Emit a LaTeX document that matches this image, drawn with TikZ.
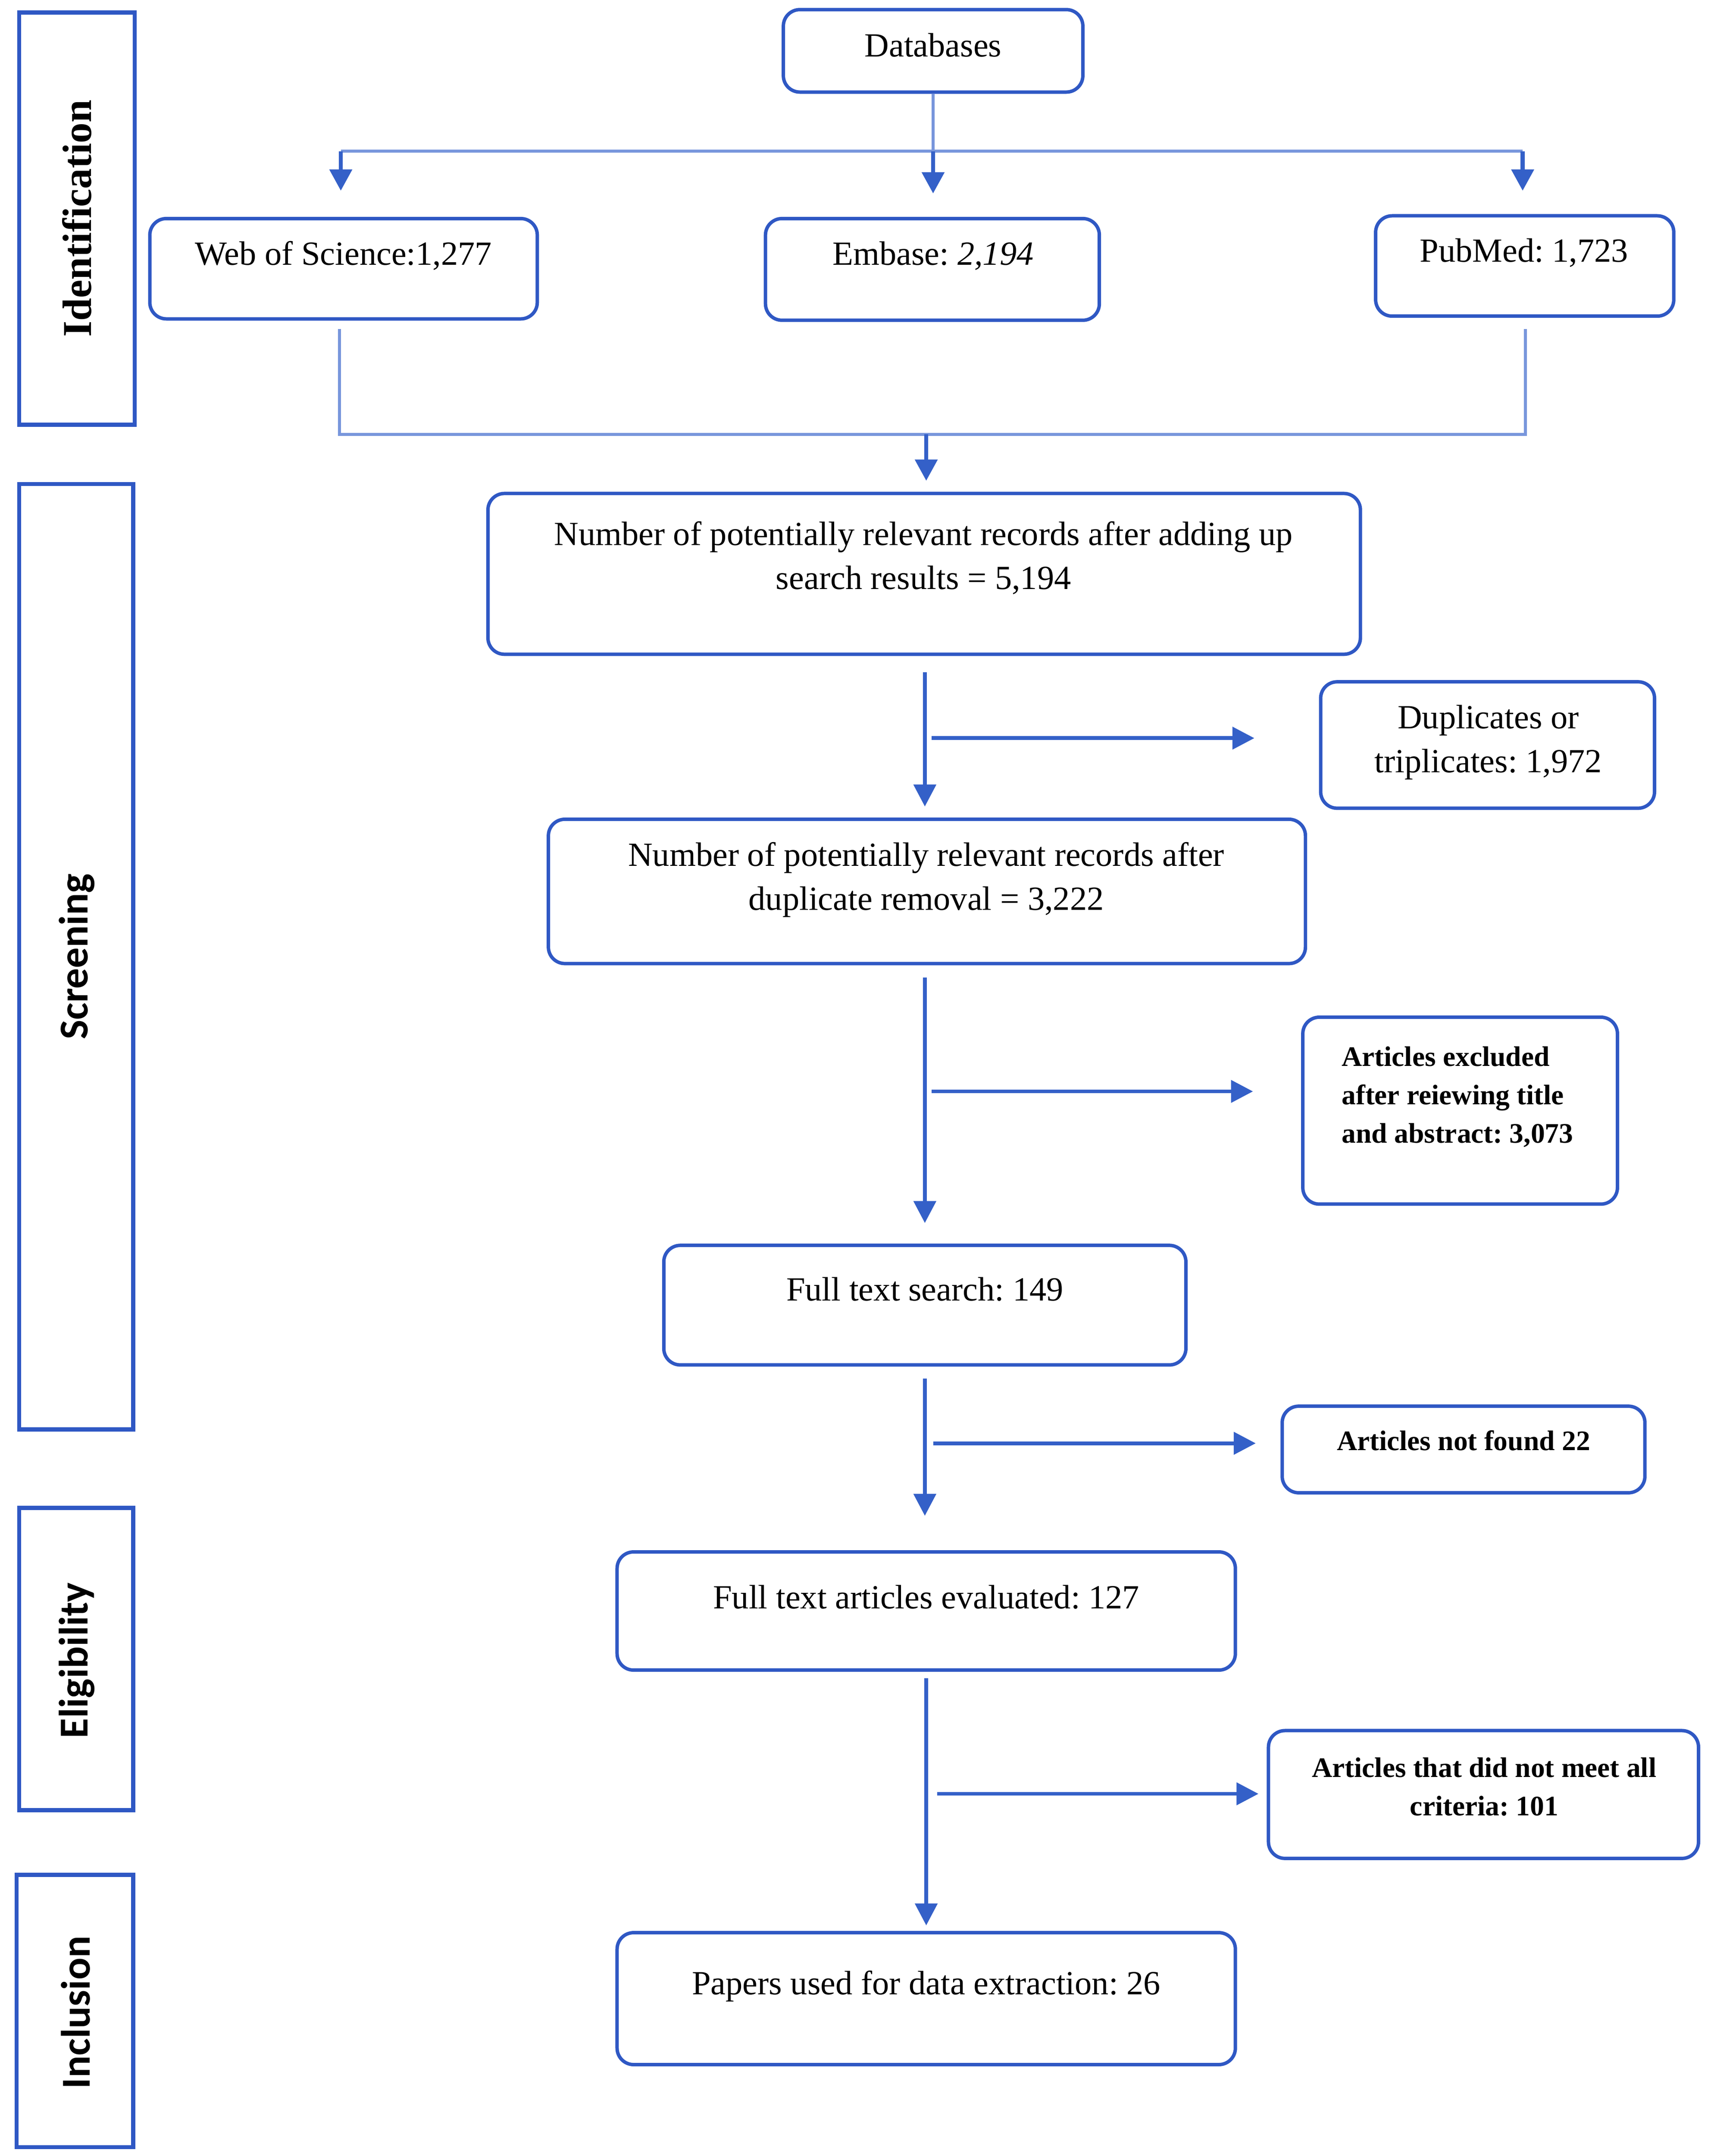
\documentclass[tikz,border=0pt]{standalone}
\usepackage{fontspec}
\setmainfont{Liberation Serif}
\newfontfamily\sidesans{Carlito}
\usetikzlibrary{arrows.meta}
\definecolor{boxblue}{RGB}{47,88,196}
\definecolor{lineblue}{RGB}{120,150,220}
\definecolor{arrblue}{RGB}{52,96,200}
\frenchspacing
\begin{document}
\begin{tikzpicture}[x=0.02cm,y=-0.02cm,
 box/.style={draw=boxblue, line width=0.05cm, rounded corners=0.24cm, inner sep=0pt},
 side/.style={draw=boxblue, line width=0.06cm, inner sep=0pt},
 txt/.style={inner sep=0pt, align=center, font=\fontsize{14}{18.2}\selectfont},
 stxt/.style={inner sep=0pt, align=center, font=\bfseries\fontsize{11.7}{15.9}\selectfont},
 sidetxt/.style={inner sep=0pt, rotate=90, font=\sidesans\bfseries\fontsize{17}{20}\selectfont},
 idline/.style={draw=lineblue, line width=0.045cm},
 idarr/.style={draw=arrblue, line width=0.06cm, -{Triangle[length=0.31cm,width=0.32cm]}},
 arr/.style={draw=arrblue, line width=0.055cm, -{Triangle[length=0.32cm,width=0.32cm]}},
]
\useasboundingbox (0,0) rectangle (1245,1568.5);

% side boxes
\node[side, minimum width=1.68cm, minimum height=6cm] (ident) at (56,159) {};
\node[inner sep=0pt, rotate=90, font=\bfseries\fontsize{17}{20}\selectfont] (identt) at (56,159) {Identification};
\node[side, minimum width=1.66cm, minimum height=13.76cm] (scr) at (55.5,696) {};
\node[sidetxt] (scrt) at (56,696) {Screening};
\node[side, minimum width=1.66cm, minimum height=4.4cm] (elig) at (55.5,1207) {};
\node[sidetxt] (eligt) at (56,1208) {Eligibility};
\node[side, minimum width=1.7cm, minimum height=3.96cm] (incl) at (54.5,1463) {};
\node[sidetxt] (inclt) at (55,1464) {Inclusion};

% main boxes
\node[box, minimum width=4.36cm, minimum height=1.2cm] (db) at (679,37) {};
\node[txt] (dbt) at (679,33) {Databases};
\node[box, minimum width=5.64cm, minimum height=1.46cm] (wos) at (250,195.5) {};
\node[txt] (wost) at (250,186) {Web of Science:1,277};
\node[box, minimum width=4.86cm, minimum height=1.48cm] (emb) at (678.5,196) {};
\node[txt] (embt) at (679,186) {Embase: \textit{2,194}};
\node[box, minimum width=4.34cm, minimum height=1.46cm] (pm) at (1109.5,193.5) {};
\node[txt] (pmt) at (1109,184) {PubMed: 1,723};

\node[box, minimum width=12.7cm, minimum height=2.34cm] (b1) at (672.5,417.5) {};
\node[txt] (b1t) at (672,406) {Number of potentially relevant records after adding up\\search results = 5,194};
\node[box, minimum width=4.86cm, minimum height=1.84cm] (dup) at (1082.5,542) {};
\node[txt] (dupt) at (1083,540) {Duplicates or\\triplicates: 1,972};
\node[box, minimum width=11.02cm, minimum height=2.1cm] (b2) at (674.5,648.5) {};
\node[txt] (b2t) at (674,640) {Number of potentially relevant records after\\duplicate removal = 3,222};
\node[box, minimum width=4.58cm, minimum height=2.72cm] (excl) at (1062.5,808) {};
\node[stxt, anchor=west, align=left] (exclt) at (976,798) {Articles excluded\\after reiewing title\\and abstract: 3,073};
\node[box, minimum width=7.6cm, minimum height=1.74cm] (fts) at (673,949.5) {};
\node[txt] (ftst) at (673,938) {Full text search: 149};
\node[box, minimum width=5.28cm, minimum height=1.26cm] (nf) at (1065,1054.5) {};
\node[stxt] (nft) at (1065,1048) {Articles not found 22};
\node[box, minimum width=9cm, minimum height=1.72cm] (fte) at (674,1172) {};
\node[txt] (ftet) at (674,1162) {Full text articles evaluated: 127};
\node[box, minimum width=6.26cm, minimum height=1.86cm] (crit) at (1079.5,1305.5) {};
\node[stxt] (critt) at (1080,1300) {Articles that did not meet all\\criteria: 101};
\node[box, minimum width=9cm, minimum height=1.92cm] (pap) at (674,1454) {};
\node[txt] (papt) at (674,1445) {Papers used for data extraction: 26};

% identification connectors
\coordinate (j1) at (679,110);
\coordinate (jl) at (248,110);
\coordinate (jr) at (1108,110);
\draw[idline] (db.south) -- (j1);
\draw[idline] (jl) -- (jr);
\draw[idarr, shorten >=0.34cm] (j1) -- (j1 |- emb.north);
\draw[idarr, shorten >=0.38cm] (jl) -- (jl |- wos.north);
\draw[idarr, shorten >=0.34cm] (jr) -- (jr |- pm.north);
\coordinate (kl) at (247,316);
\coordinate (kr) at (1110,316);
\coordinate (km) at (674,316);
\draw[idline, shorten <=0.12cm, shorten >=0.16cm] (wos.south -| kl) -- (kl) -- (kr) -- (pm.south -| kr);
\draw[idarr, shorten >=0.16cm] (km) -- (km |- b1.north);

% screening arrows
\coordinate (v1) at (673,476);
\draw[arr, shorten <=0.26cm, shorten >=0.16cm] (v1) -- (v1 |- b2.north);
\coordinate (h1) at (678,537);
\draw[arr, shorten >=0.94cm] (h1) -- (h1 -| dup.west);
\coordinate (v2) at (673,701);
\draw[arr, shorten <=0.2cm, shorten >=0.3cm] (v2) -- (v2 |- fts.north);
\coordinate (h2) at (678,794);
\draw[arr, shorten >=0.7cm] (h2) -- (h2 -| excl.west);
\coordinate (v3) at (673,993);
\draw[arr, shorten <=0.2cm, shorten >=0.5cm] (v3) -- (v3 |- fte.north);
\coordinate (h3) at (679,1050);
\draw[arr, shorten >=0.36cm] (h3) -- (h3 -| nf.west);
\coordinate (v4) at (674,1215);
\draw[arr, shorten <=0.12cm, shorten >=0.08cm] (v4) -- (v4 |- pap.north);
\coordinate (h4) at (682,1305);
\draw[arr, shorten >=0.12cm] (h4) -- (h4 -| crit.west);
\end{tikzpicture}
\end{document}
